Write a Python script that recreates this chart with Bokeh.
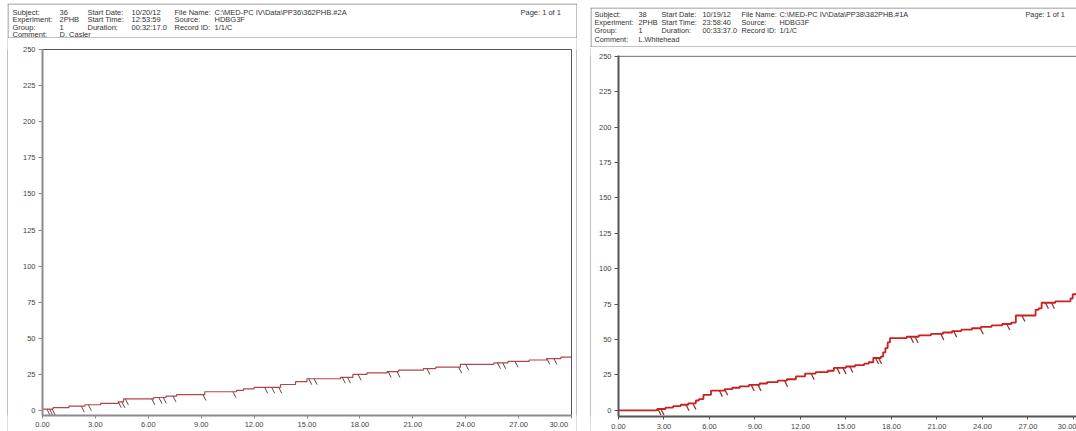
import numpy as np
from bokeh.plotting import figure
from bokeh.layouts import row, column
from bokeh.models import Range1d, FixedTicker, Span, Spacer
from bokeh.core.properties import value
from bokeh.embed import file_html
from bokeh.resources import INLINE

# ---------------- data ----------------
x_ticks = [0, 3, 6, 9, 12, 15, 18, 21, 24, 27, 30]
x_tick_labels = ["0.00", "3.00", "6.00", "9.00", "12.00", "15.00", "18.00",
                 "21.00", "24.00", "27.00", "30.00"]
y_ticks = [0, 25, 50, 75, 100, 125, 150, 175, 200, 225, 250]

# Subject 36 (left record): step times (min) and cumulative counts
left_times = [0, 0.6, 1.5, 2.4, 3.3, 4.3, 4.6, 6.3, 7.0, 7.6, 9.2, 11.0, 11.4, 12.0,
              13.5, 14.35, 15.0, 16.9, 17.6, 18.4, 19.55, 20.2, 21.6, 22.3, 23.7,
              25.6, 26.4, 27.6, 28.6, 29.4]
left_counts = [1, 2, 3, 4, 5, 6, 8, 9, 10, 11, 13, 14, 15, 16, 18, 20, 22, 23, 25,
               26, 27, 28, 29, 30, 32, 33, 34, 35, 36, 37]
left_marks = [0.25, 0.4, 0.55, 2.2, 2.6, 4.3, 4.5, 4.7, 6.2, 6.6, 6.85, 7.4, 9.1,
              10.8, 12.6, 13.0, 13.4, 15.1, 15.4, 17.0, 17.3, 17.9, 19.6, 20.1,
              21.8, 23.6, 24.0, 25.8, 26.1, 26.8, 28.6, 29.0]

# Subject 38 (right record)
right_times = [0, 2.55, 3.1, 3.6, 4.1, 4.6, 5.1, 5.3, 5.6, 6.1, 7.0, 7.5, 8.0, 8.6,
               9.3, 9.8, 10.5, 11.1, 11.7, 12.3, 13.0, 13.8, 14.2, 15.0, 15.6, 16.2,
               16.5, 16.8, 17.3, 17.45, 17.6, 17.75, 17.9, 19.0, 19.8, 20.6, 21.4,
               22.0, 22.6, 23.3, 23.9, 24.6, 25.3, 25.9, 26.2, 27.5, 27.7, 27.9,
               28.8, 29.8, 29.95]
right_counts = [0, 1, 2, 3, 4, 5, 7, 8, 11, 14, 15, 16, 17, 18, 19, 20, 21, 22, 24,
                26, 27, 28, 30, 31, 32, 33, 34, 37, 38, 41, 44, 48, 51, 52, 53, 54,
                55, 56, 57, 58, 59, 60, 61, 62, 67, 71, 72, 76, 77, 79, 82]
right_marks = [2.6, 2.8, 4.45, 4.9, 6.65, 7.0, 8.75, 9.2, 10.95, 12.7, 14.4, 14.8,
               15.25, 16.95, 17.15, 19.25, 19.55, 21.25, 22.1, 23.85, 25.6, 26.6,
               28.15, 28.55]

left_header_rows = [
    ["Subject:", "36", "Start Date:", "10/20/12", "File Name:", "C:\\MED-PC IV\\Data\\PP36\\362PHB.#2A"],
    ["Experiment:", "2PHB", "Start Time:", "12:53:59", "Source:", "HDBG3F"],
    ["Group:", "1", "Duration:", "00:32:17.0", "Record ID:", "1/1/C"],
    ["Comment:", "D. Casler"],
]
right_header_rows = [
    ["Subject:", "38", "Start Date:", "10/19/12", "File Name:", "C:\\MED-PC IV\\Data\\PP38\\382PHB.#1A"],
    ["Experiment:", "2PHB", "Start Time:", "23:58:40", "Source:", "HDBG3F"],
    ["Group:", "1", "Duration:", "00:33:37.0", "Record ID:", "1/1/C"],
    ["Comment:", "L.Whitehead"],
]
page_label = "Page: 1 of 1"

FONT = "Liberation Sans"
BORDER = "#808080"


def header(x0, y0, width, height, col_x, row_y, rows, page_x, fsize, right_side):
    h = figure(width=width, height=height, x_range=Range1d(x0, x0 + width),
               y_range=Range1d(y0 + height, y0), min_border=0, toolbar_location=None,
               output_backend="svg", x_axis_location=None, y_axis_location=None,
               outline_line_color=None, background_fill_color="white",
               border_fill_color="white")
    h.grid.visible = False
    xs, ys, ts = [], [], []
    for r, texts in enumerate(rows):
        for c, t in enumerate(texts):
            xs.append(col_x[c]); ys.append(row_y[r]); ts.append(t)
    xs.append(page_x); ys.append(row_y[0]); ts.append(page_label)
    h.text(x=xs, y=ys, text=ts, text_font=value(FONT), text_font_size=fsize,
           text_baseline="middle", text_align="left", text_color="#333333")
    top, bot = y0 + 0.5, y0 + height - 0.5
    lft, rgt = x0 + 0.5, x0 + width - 0.5
    sx0 = [x0, lft, x0]
    sy0 = [top, top, bot]
    sx1 = [x0 + width, lft, x0 + width]
    sy1 = [top, bot, bot]
    if right_side:
        sx0.append(rgt); sy0.append(top); sx1.append(rgt); sy1.append(bot)
    h.segment(x0=sx0, y0=sy0, x1=sx1, y1=sy1, line_color=BORDER, line_width=1)
    return h


def strip(height):
    s = figure(width=1, height=height, min_border=0, toolbar_location=None,
               output_backend="svg", x_axis_location=None, y_axis_location=None,
               outline_line_color=None, background_fill_color=BORDER,
               border_fill_color=BORDER, x_range=Range1d(0, 1), y_range=Range1d(0, 1))
    s.grid.visible = False
    return s


def record(width, height, x_end, y_rng, mb_left, mb_right, mb_top, times, counts,
           marks, line_color, line_width, mark_color, mark_width, dx, dy,
           axis_color, axis_width, overrides, outline, standoff):
    p = figure(width=width, height=height, x_range=Range1d(0, x_end),
               y_range=Range1d(*y_rng), min_border_left=mb_left,
               min_border_right=mb_right, min_border_top=mb_top, min_border_bottom=0,
               toolbar_location=None, output_backend="svg",
               background_fill_color="white", border_fill_color="white")
    p.grid.visible = False
    p.xaxis.ticker = FixedTicker(ticks=x_ticks)
    p.yaxis.ticker = FixedTicker(ticks=y_ticks)
    p.xaxis.major_label_overrides = overrides
    p.axis.minor_tick_line_color = None
    p.axis.major_tick_in = 0
    p.xaxis.major_tick_out = 3
    p.yaxis.major_tick_out = 4
    p.axis.axis_line_color = axis_color
    p.axis.axis_line_width = axis_width
    p.axis.major_tick_line_color = axis_color
    p.axis.major_tick_line_width = 1
    p.axis.major_label_text_font = FONT
    p.axis.major_label_text_font_size = "7.5px"
    p.axis.major_label_text_color = "#444444"
    p.xaxis.major_label_standoff = standoff
    p.yaxis.major_label_standoff = 3
    if outline:
        p.outline_line_color = "#555555"
        p.outline_line_width = 1
    else:
        p.outline_line_color = None
        p.add_layout(Span(location=y_ticks[-1], dimension="width",
                          line_color="#555555", line_width=1))
    xs = list(times) + [x_end]
    ys = list(counts) + [counts[-1]]
    p.step(xs, ys, mode="after", line_color=line_color, line_width=line_width)
    t = np.array(marks)
    idx = np.searchsorted(np.array(times), t, side="right") - 1
    v = np.array(counts)[idx]
    p.segment(x0=t, y0=v, x1=t + dx, y1=v - dy, line_color=mark_color,
              line_width=mark_width)
    return p


left_over = {t: l for t, l in zip(x_ticks, x_tick_labels)}
left_over[x_ticks[-1]] = x_tick_labels[-1] + "\u00a0" * 4
right_over = {t: l for t, l in zip(x_ticks, x_tick_labels)}

# left panel: border box x 7..577, header y 3..38, record y 38..431
lh = header(7, 3, 570, 35, [12, 59, 87, 131, 174, 214], [11.5, 19, 26.7, 33.7],
            left_header_rows, 520, "7.5px", True)
lp = record(568, 393, 30, (-3.45, 250), 34, 5, 11, left_times, left_counts,
            left_marks, "#b04848", 1.2, "#6a4444", 1.0, 0.17, 4.1,
            "#8c8c8c", 2, left_over, True, 1)
left_col = column(Spacer(width=570, height=3), lh,
                  row(strip(393), lp, strip(393)))

# right panel: border x 590.., header y 7..47, record y 47..431
rh = header(590, 7, 486, 40, [594, 638, 661, 702, 741, 779], [13.5, 21.5, 29.5, 39],
            right_header_rows, 1025, "7.3px", False)
rp = record(485, 384, 30.2, (-4.3, 250.5), 27, 0, 8, right_times, right_counts,
            right_marks, "#cc2020", 1.8, "#a03030", 1.3, 0.2, 4.25,
            "#555555", 2, right_over, False, 4)
right_col = column(Spacer(width=486, height=7), rh, row(strip(384), rp))

layout = row(Spacer(width=7, height=431), left_col, Spacer(width=13, height=431),
             right_col)

open("out.html", "w").write(file_html(layout, INLINE))
